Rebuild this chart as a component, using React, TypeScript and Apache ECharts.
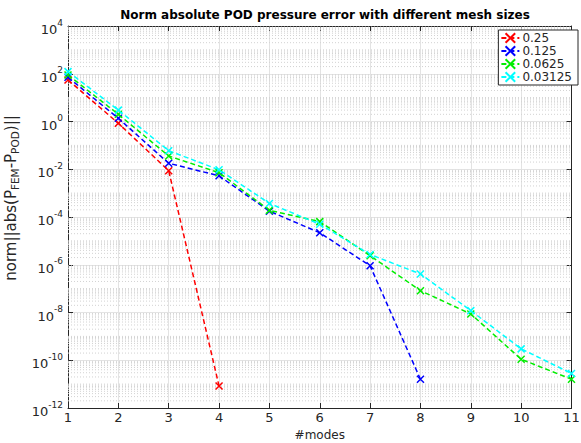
import React, { useEffect, useRef } from "react";
import * as echarts from "echarts";

const modes = [1, 2, 3, 4, 5, 6, 7, 8, 9, 10, 11];
const seriesNames = ["0.25", "0.125", "0.0625", "0.03125"];
const seriesColors = ["#ff0000", "#0000ff", "#00ee00", "#00ffff"];
const err025 = [55, 0.84, 0.0087, 8.3e-12];
const err0125 = [71, 1.36, 0.0178, 0.0053, 1.75e-4, 2.2e-5, 9e-7, 1.6e-11];
const err00625 = [89, 2.0, 0.036, 0.0072, 1.9e-4, 6.4e-5, 2.4e-6, 8.2e-8, 8.7e-9, 1.1e-10, 1.6e-11];
const err003125 = [123, 3.0, 0.06, 0.0095, 3.7e-4, 5e-5, 2.7e-6, 4.1e-7, 1.2e-8, 3.0e-10, 2.8e-11];
const allSeries = [err025, err0125, err00625, err003125];
const yMinExp = -12;
const yMaxExp = 4;

const axisColor = "#262626";
const xSymbol = "path://M0,0L10,10M10,0L0,10";
const FONT = "DejaVu Sans";

export default function App() {
  const ref = useRef<HTMLDivElement>(null);
  useEffect(() => {
    if (!ref.current) return;
    const chart = echarts.init(ref.current, null, { renderer: "svg" });

    const minorVals: number[] = [];
    for (let n = yMinExp; n < yMaxExp; n++) {
      for (let k = 2; k <= 9; k++) minorVals.push(k * Math.pow(10, n));
      if (Math.abs(n) % 2 === 1) minorVals.push(Math.pow(10, n));
    }

    const series: any[] = [
      {
        type: "custom",
        name: "minorGrid",
        silent: true,
        z: 1,
        data: minorVals.map((v) => [modes[0], v]),
        renderItem: (params: any, api: any) => {
          const v = api.value(1);
          const p1 = api.coord([modes[0], v]);
          const p2 = api.coord([modes[modes.length - 1], v]);
          return {
            type: "line",
            shape: { x1: p1[0], y1: p1[1], x2: p2[0], y2: p2[1] },
            style: { stroke: "#d2d2d2", lineWidth: 1, lineDash: [1, 2] },
          };
        },
      },
      ...allSeries.map((vals, i) => ({
        name: seriesNames[i],
        type: "line",
        data: vals.map((v, j) => [modes[j], v]),
        symbol: xSymbol,
        symbolSize: 7,
        lineStyle: { color: seriesColors[i], width: 1.5, type: [5, 3] },
        itemStyle: { color: seriesColors[i], borderColor: seriesColors[i], borderWidth: 1.5 },
        z: 3,
      })),
    ];

    const yLabel = (v: number) => {
      const e = Math.round(Math.log10(v));
      return `{b|10}{s|${e}}`;
    };

    chart.setOption({
      animation: false,
      title: {
        text: "Norm absolute POD pressure error with different mesh sizes",
        left: 320,
        top: 4,
        textAlign: "center",
        textStyle: { fontFamily: FONT, fontSize: 12, fontWeight: "bold", color: "#000" },
      },
      legend: {
        data: seriesNames,
        orient: "vertical",
        right: 3,
        top: 30,
        backgroundColor: "#fff",
        borderColor: axisColor,
        borderWidth: 1,
        borderRadius: 0,
        padding: [2, 6, 2, 2],
        itemGap: 1,
        itemWidth: 18,
        itemHeight: 12,
        textStyle: { fontFamily: FONT, fontSize: 12, color: axisColor, padding: [0, 0, 0, -2] },
      },
      grid: { left: 68, right: 9.5, top: 26, bottom: 35, outerBoundsMode: "none", containLabel: false },
      xAxis: [
        {
          type: "value",
          min: 1,
          max: 11,
          interval: 1,
          name: "#modes",
          nameLocation: "middle",
          nameGap: 20,
          nameTextStyle: { fontFamily: FONT, fontSize: 12, color: axisColor },
          axisLine: { show: true, lineStyle: { color: axisColor } },
          axisTick: { show: true, inside: true, length: 5, lineStyle: { color: axisColor } },
          axisLabel: { fontFamily: FONT, fontSize: 13, color: axisColor, margin: 3 },
          splitLine: { show: true, lineStyle: { color: "#e3e3e3", width: 1 } },
        },
        {
          type: "value",
          position: "top",
          min: 1,
          max: 11,
          interval: 1,
          axisLine: { show: true, lineStyle: { color: axisColor } },
          axisTick: { show: true, inside: true, length: 5, lineStyle: { color: axisColor } },
          axisLabel: { show: false },
          splitLine: { show: false },
        },
      ],
      yAxis: [
        {
          type: "log",
          logBase: 10,
          min: Math.pow(10, yMinExp),
          max: Math.pow(10, yMaxExp),
          interval: 2,
          splitNumber: 8,
          name: "norm||abs(P{sub|FEM}-P{sub|POD})||",
          nameLocation: "middle",
          nameGap: 42,
          nameRotate: 90,
          nameTextStyle: {
            fontFamily: FONT,
            fontSize: 15,
            color: axisColor,
            padding: [0, 0, 0, 38],
            rich: {
              sub: { fontFamily: FONT, fontSize: 10.5, color: axisColor, padding: [9, 0, 0, 0] },
            },
          },
          axisLine: { show: true, lineStyle: { color: axisColor } },
          axisTick: { show: true, inside: true, length: 5, lineStyle: { color: axisColor } },
          axisLabel: {
            formatter: yLabel,
            margin: 5,
            rich: {
              b: { fontFamily: FONT, fontSize: 13, color: axisColor, padding: [7, 0, 0, 0] },
              s: { fontFamily: FONT, fontSize: 9, color: axisColor, padding: [0, 0, 7, 0] },
            },
          },
          splitLine: { show: true, lineStyle: { color: "#e3e3e3", width: 1 } },
        },
        {
          type: "log",
          logBase: 10,
          position: "right",
          min: Math.pow(10, yMinExp),
          max: Math.pow(10, yMaxExp),
          interval: 2,
          splitNumber: 8,
          axisLine: { show: true, lineStyle: { color: axisColor } },
          axisTick: { show: true, inside: true, length: 5, lineStyle: { color: axisColor } },
          axisLabel: { show: false },
          splitLine: { show: false },
        },
      ],
      series,
    });
    return () => chart.dispose();
  }, []);
  return <div ref={ref} style={{ width: 581, height: 443, position: "absolute", left: 0, top: 0, background: "#fff" }} />;
}
